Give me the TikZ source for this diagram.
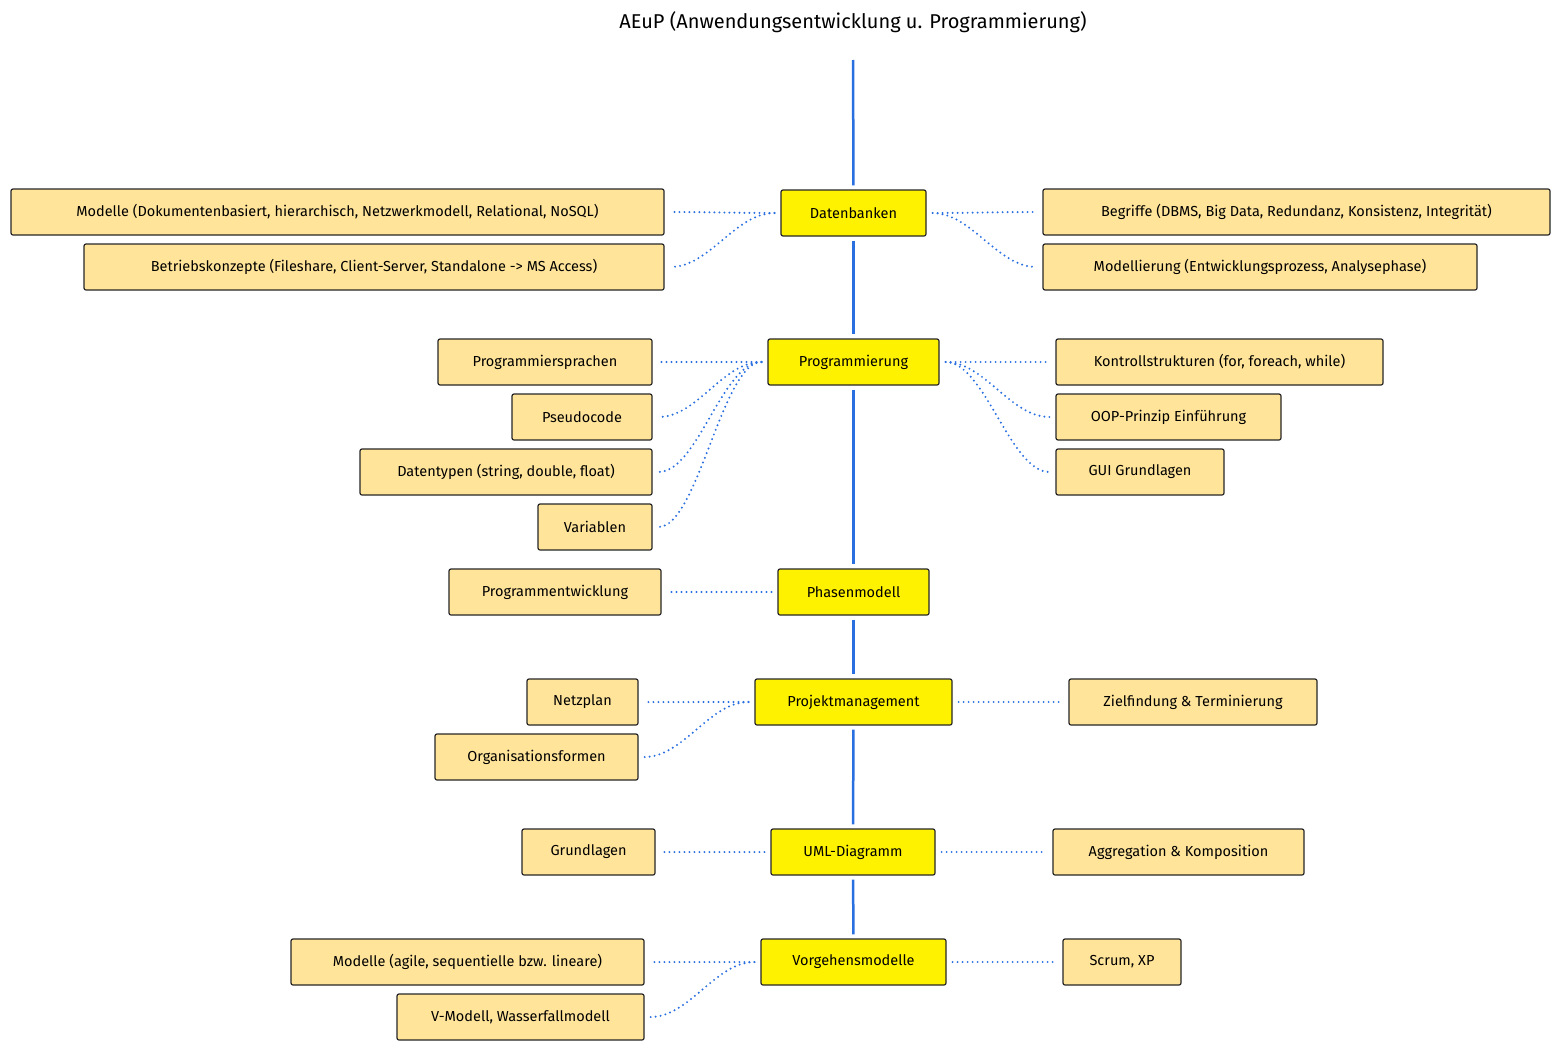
\documentclass[tikz,border=0pt]{standalone}
\usepackage{fontspec}
\setmainfont{Fira Sans}
\definecolor{lblue}{HTML}{2A6FE0}
\definecolor{leaffill}{HTML}{FFE49A}
\begin{document}
\begin{tikzpicture}[x=1pt,y=-1pt,
  box/.style={draw=black!85,line width=1.2pt,rounded corners=2pt,minimum height=46pt,inner sep=0pt,font=\fontsize{14.5}{16}\selectfont},
  main/.style={box,fill=yellow},
  leaf/.style={box,fill=leaffill},
  spine/.style={lblue,line width=2.5pt,shorten <=4pt,shorten >=4pt},
  dot/.style={lblue,line width=2.2pt,line cap=round,dash pattern=on 0pt off 5pt,shorten <=6pt,shorten >=6pt}]
\useasboundingbox (0,0) rectangle (1560,1052);
\node[font=\fontsize{20}{24}\selectfont] (title) at (853,22) {AEuP (Anwendungsentwicklung u. Programmierung)};
\coordinate (top) at (853,56);
% main nodes
\node[main,minimum width=145pt] (db) at (853.5,213) {Datenbanken};
\node[main,minimum width=171pt] (pr) at (853.5,362) {Programmierung};
\node[main,minimum width=151pt] (ph) at (853.5,592) {Phasenmodell};
\node[main,minimum width=197pt] (pm) at (853.5,702) {Projektmanagement};
\node[main,minimum width=164pt] (uml) at (853,852) {UML-Diagramm};
\node[main,minimum width=185pt] (vm) at (853.5,962) {Vorgehensmodelle};
\draw[spine] (top) -- (db.north);
\draw[spine] (db) -- (pr);
\draw[spine] (pr) -- (ph);
\draw[spine] (ph) -- (pm);
\draw[spine] (pm) -- (uml);
\draw[spine] (uml) -- (vm);
% left leaves
\node[leaf,minimum width=653pt] (l1) at (337.5,212) {Modelle (Dokumentenbasiert, hierarchisch, Netzwerkmodell, Relational, NoSQL)};
\node[leaf,minimum width=580pt] (l2) at (374,267) {Betriebskonzepte (Fileshare, Client-Server, Standalone -> MS Access)};
\node[leaf,minimum width=214pt] (l3) at (545,362) {Programmiersprachen};
\node[leaf,minimum width=140pt] (l4) at (582,417) {Pseudocode};
\node[leaf,minimum width=292pt] (l5) at (506,472) {Datentypen (string, double, float)};
\node[leaf,minimum width=114pt] (l6) at (595,527) {Variablen};
\node[leaf,minimum width=212pt] (l7) at (555,592) {Programmentwicklung};
\node[leaf,minimum width=111pt] (l8) at (582.5,702) {Netzplan};
\node[leaf,minimum width=203pt] (l9) at (536.5,757) {Organisationsformen};
\node[leaf,minimum width=133pt] (l10) at (588.5,852) {Grundlagen};
\node[leaf,minimum width=353pt] (l11) at (467.5,962) {Modelle (agile, sequentielle bzw. lineare)};
\node[leaf,minimum width=247pt] (l12) at (520.5,1017) {V-Modell, Wasserfallmodell};
% right leaves
\node[leaf,minimum width=507pt] (r1) at (1296.5,212) {Begriffe (DBMS, Big Data, Redundanz, Konsistenz, Integrität)};
\node[leaf,minimum width=434pt] (r2) at (1260,267) {Modellierung (Entwicklungsprozess, Analysephase)};
\node[leaf,minimum width=327pt] (r3) at (1219.5,362) {Kontrollstrukturen (for, foreach, while)};
\node[leaf,minimum width=225pt] (r4) at (1168.5,417) {OOP-Prinzip Einführung};
\node[leaf,minimum width=168pt] (r5) at (1140,472) {GUI Grundlagen};
\node[leaf,minimum width=248pt] (r6) at (1193,702) {Zielfindung \& Terminierung};
\node[leaf,minimum width=251pt] (r7) at (1178.5,852) {Aggregation \& Komposition};
\node[leaf,minimum width=118pt] (r8) at (1122,962) {Scrum, XP};
% left connectors
\foreach \m/\l in {db/l1,db/l2,pr/l3,pr/l4,pr/l5,pr/l6,ph/l7,pm/l8,pm/l9,uml/l10,vm/l11,vm/l12}
  \draw[dot] (\m.west) .. controls +(-45,0) and +(45,0) .. (\l.east);
\foreach \m/\r in {db/r1,db/r2,pr/r3,pr/r4,pr/r5,pm/r6,uml/r7,vm/r8}
  \draw[dot] (\m.east) .. controls +(45,0) and +(-45,0) .. (\r.west);
\end{tikzpicture}
\end{document}
